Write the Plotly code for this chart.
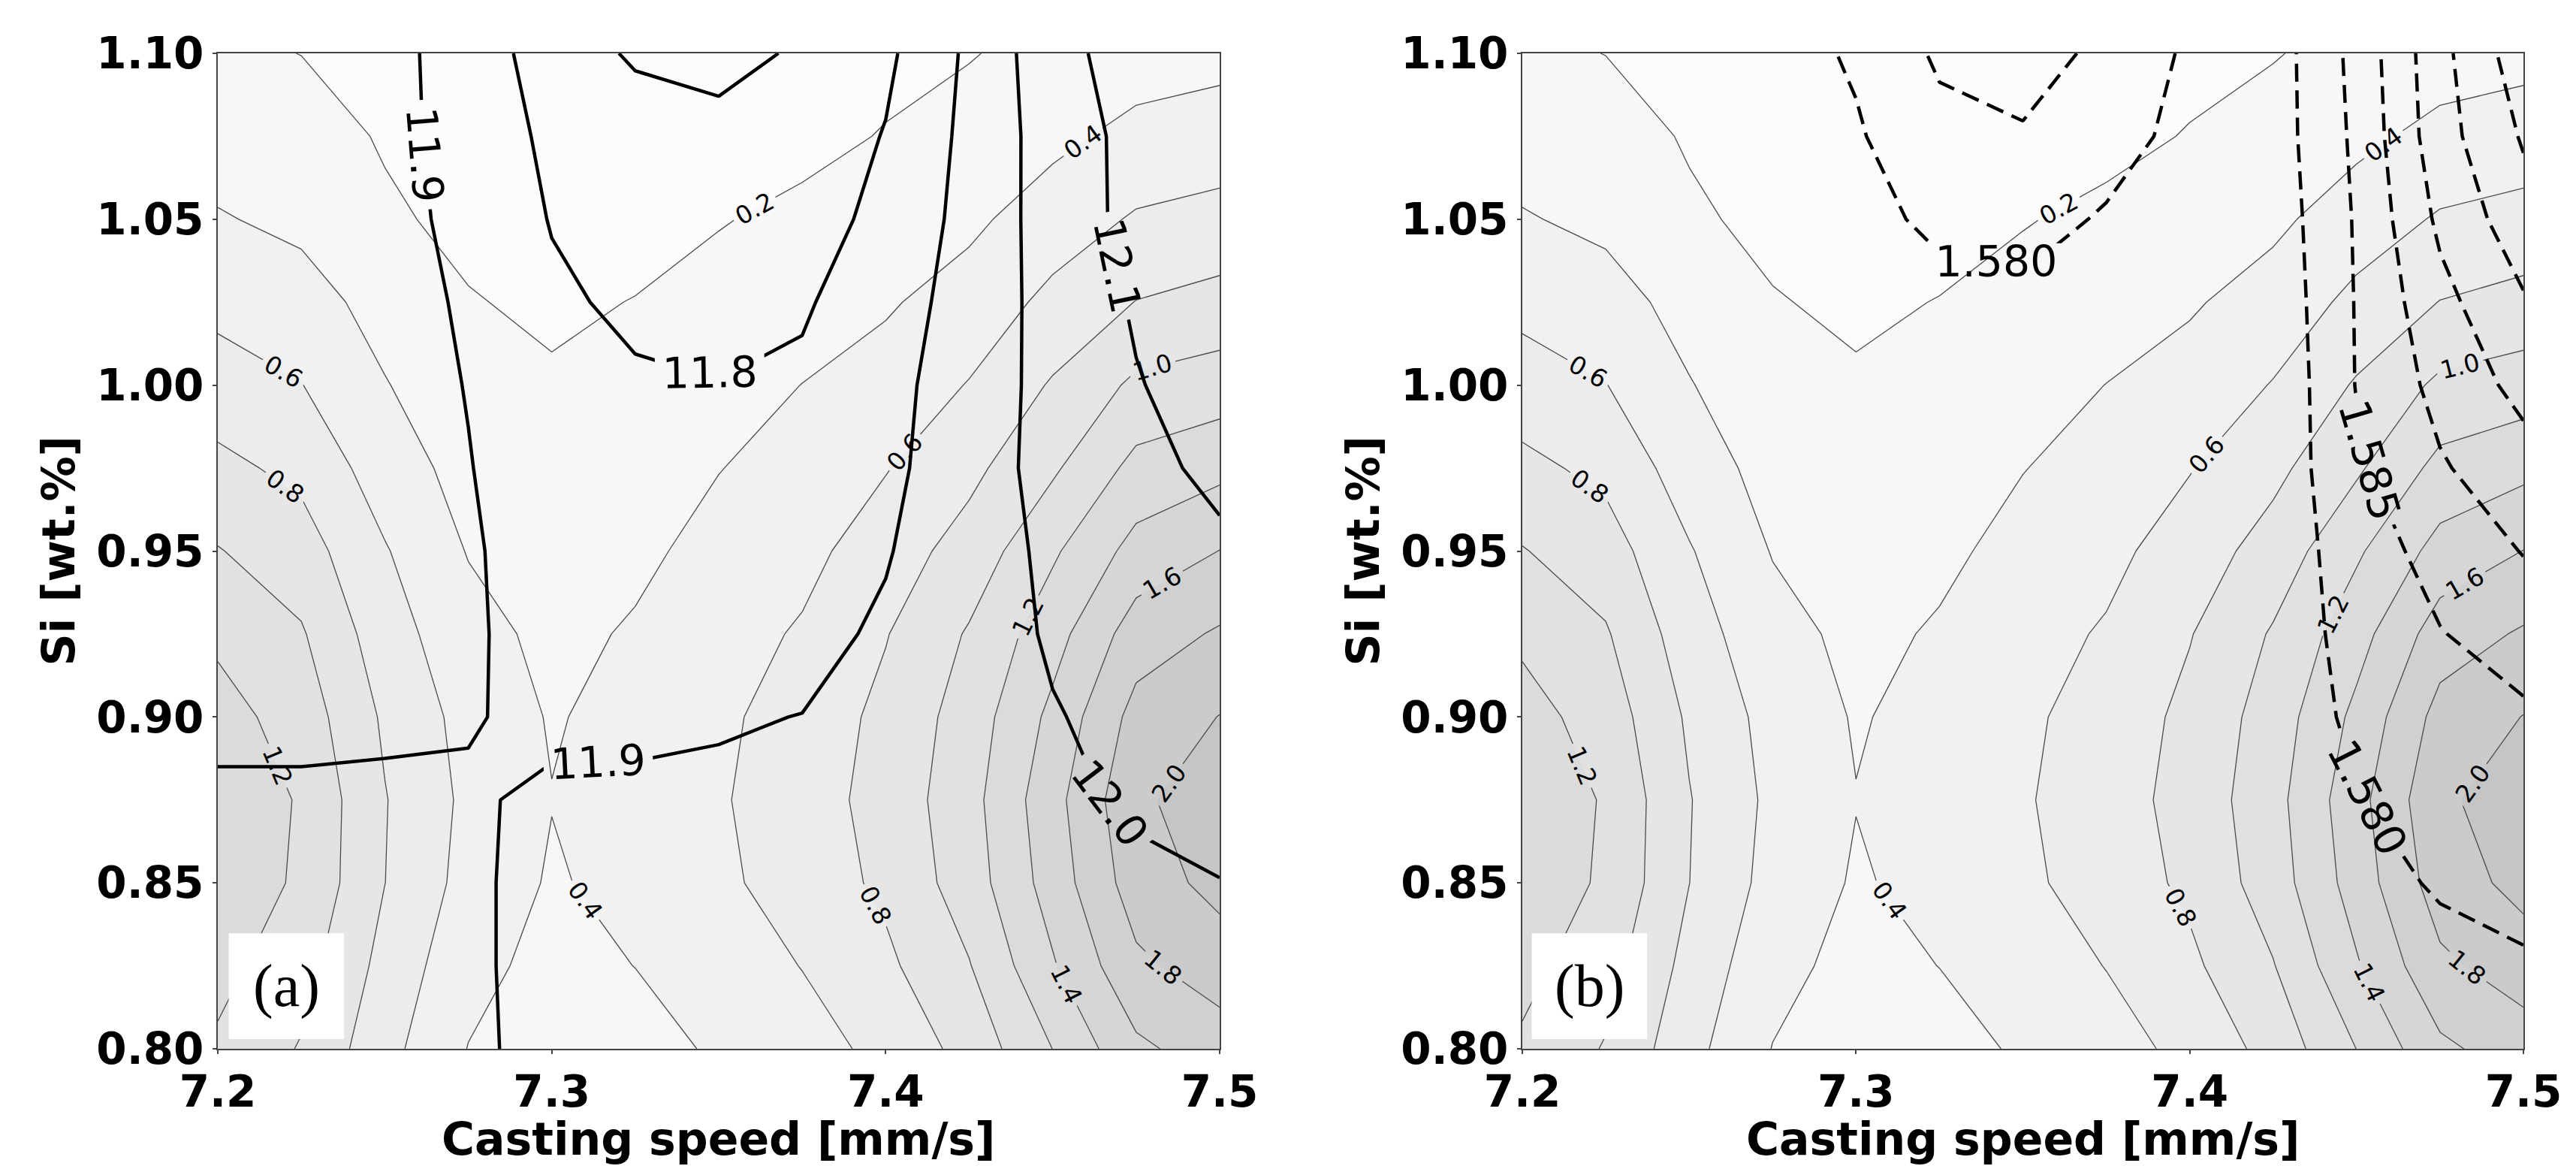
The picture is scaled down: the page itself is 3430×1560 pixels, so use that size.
import plotly.graph_objects as go

# ---------------- data ----------------
x_speed = [7.2, 7.225, 7.25, 7.275, 7.3, 7.325, 7.35, 7.375, 7.4, 7.425, 7.45, 7.475, 7.5]
y_si = [0.8, 0.825, 0.85, 0.875, 0.9, 0.925, 0.95, 0.975, 1.0, 1.025, 1.05, 1.075, 1.1]

# background field (grey filled contours, same in both panels); rows = y_si, cols = x_speed
bg_rows = [
    [1.17, 0.985, 0.665, 0.395, 0.30, 0.33, 0.425, 0.525, 0.65, 0.87, 1.202, 1.56, 1.70],
    [1.26, 1.08, 0.735, 0.46, 0.34, 0.402, 0.50, 0.605, 0.76, 0.99, 1.38, 1.76, 1.90],
    [1.33, 1.17, 0.802, 0.53, 0.38, 0.46, 0.56, 0.69, 0.84, 1.10, 1.49, 1.90, 2.06],
    [1.36, 1.18, 0.81, 0.555, 0.405, 0.48, 0.58, 0.71, 0.87, 1.13, 1.53, 1.96, 2.12],
    [1.28, 1.11, 0.77, 0.53, 0.385, 0.46, 0.565, 0.68, 0.85, 1.09, 1.45, 1.87, 2.005],
    [1.16, 1.02, 0.69, 0.47, 0.35, 0.42, 0.525, 0.62, 0.79, 1.02, 1.32, 1.70, 1.823],
    [1.01, 0.89, 0.615, 0.39, 0.31, 0.36, 0.46, 0.545, 0.70, 0.88, 1.17, 1.47, 1.603],
    [0.85, 0.75, 0.50, 0.33, 0.27, 0.30, 0.395, 0.47, 0.59, 0.75, 0.97, 1.26, 1.348],
    [0.69, 0.605, 0.41, 0.27, 0.22, 0.25, 0.33, 0.402, 0.47, 0.61, 0.82, 1.04, 1.098],
    [0.545, 0.48, 0.33, 0.21, 0.17, 0.205, 0.26, 0.32, 0.38, 0.48, 0.65, 0.805, 0.865],
    [0.415, 0.355, 0.225, 0.16, 0.12, 0.14, 0.19, 0.24, 0.29, 0.36, 0.50, 0.62, 0.663],
    [0.31, 0.27, 0.185, 0.14, 0.09, 0.10, 0.12, 0.15, 0.21, 0.27, 0.35, 0.46, 0.495],
    [0.23, 0.198, 0.16, 0.12, 0.07, 0.07, 0.08, 0.10, 0.15, 0.19, 0.26, 0.30, 0.34],
]

# panel (a) overlay field (solid black contours 11.7 ... 12.1)
a_rows = [
    [11.86, 11.862, 11.868, 11.894, 11.91, 11.912, 11.915, 11.92, 11.925, 11.935, 11.945, 11.96, 11.97],
    [11.865, 11.865, 11.87, 11.895, 11.91, 11.915, 11.92, 11.925, 11.93, 11.94, 11.955, 11.97, 11.98],
    [11.87, 11.87, 11.875, 11.895, 11.91, 11.915, 11.92, 11.925, 11.935, 11.95, 11.97, 11.985, 11.998],
    [11.89, 11.89, 11.89, 11.895, 11.908, 11.907, 11.91, 11.915, 11.93, 11.955, 11.985, 12.01, 12.03],
    [11.915, 11.915, 11.91, 11.903, 11.89, 11.892, 11.895, 11.901, 11.925, 11.96, 11.995, 12.025, 12.045],
    [11.93, 11.925, 11.915, 11.905, 11.885, 11.87, 11.87, 11.88, 11.91, 11.955, 12.01, 12.045, 12.07],
    [11.935, 11.93, 11.92, 11.905, 11.88, 11.86, 11.855, 11.865, 11.895, 11.95, 12.02, 12.06, 12.085],
    [11.94, 11.935, 11.92, 11.902, 11.87, 11.845, 11.835, 11.845, 11.88, 11.95, 12.035, 12.075, 12.12],
    [11.945, 11.94, 11.925, 11.898, 11.85, 11.812, 11.802, 11.815, 11.87, 11.95, 12.03, 12.095, 12.14],
    [11.95, 11.94, 11.925, 11.892, 11.817, 11.78, 11.77, 11.79, 11.852, 11.94, 12.035, 12.11, 12.15],
    [11.95, 11.94, 11.925, 11.88, 11.795, 11.76, 11.745, 11.76, 11.825, 11.932, 12.042, 12.13, 12.16],
    [11.95, 11.945, 11.925, 11.87, 11.777, 11.73, 11.714, 11.735, 11.805, 11.925, 12.046, 12.13, 12.17],
    [11.95, 11.95, 11.915, 11.879, 11.733, 11.692, 11.685, 11.706, 11.78, 11.918, 12.063, 12.15, 12.19],
]

# panel (b) overlay field (dashed black contours 1.580 ... 1.605)
b_rows = [
    [1.5665, 1.568, 1.5692, 1.5702, 1.571, 1.5717, 1.5722, 1.5726, 1.573, 1.574, 1.5755, 1.577, 1.578],
    [1.567, 1.5685, 1.5697, 1.5707, 1.5715, 1.5722, 1.5727, 1.5731, 1.5735, 1.5748, 1.577, 1.5785, 1.5795],
    [1.5675, 1.569, 1.5702, 1.5712, 1.572, 1.5727, 1.5732, 1.5737, 1.574, 1.5755, 1.5783, 1.5805, 1.5815],
    [1.568, 1.5695, 1.5707, 1.5717, 1.5725, 1.5732, 1.5737, 1.5741, 1.5745, 1.5765, 1.5798, 1.5815, 1.5825],
    [1.5685, 1.57, 1.5712, 1.5722, 1.573, 1.5737, 1.5741, 1.5744, 1.5748, 1.5775, 1.5808, 1.583, 1.5843],
    [1.569, 1.5705, 1.5717, 1.5727, 1.5735, 1.5742, 1.5746, 1.5748, 1.575, 1.5775, 1.5815, 1.5848, 1.5871],
    [1.5695, 1.571, 1.5722, 1.5733, 1.5742, 1.575, 1.5753, 1.5755, 1.5755, 1.577, 1.5825, 1.5868, 1.5902],
    [1.570, 1.5715, 1.573, 1.5742, 1.5752, 1.576, 1.5763, 1.5762, 1.5758, 1.5765, 1.5842, 1.5895, 1.593],
    [1.5705, 1.572, 1.5735, 1.575, 1.576, 1.577, 1.5773, 1.577, 1.5762, 1.576, 1.5852, 1.5915, 1.5965],
    [1.571, 1.5725, 1.574, 1.5755, 1.577, 1.5785, 1.579, 1.578, 1.5768, 1.5765, 1.5853, 1.5935, 1.5995],
    [1.5715, 1.573, 1.575, 1.5765, 1.5785, 1.581, 1.5818, 1.5795, 1.5775, 1.577, 1.5855, 1.596, 1.603],
    [1.572, 1.574, 1.5755, 1.577, 1.5795, 1.5835, 1.5845, 1.582, 1.5785, 1.5775, 1.586, 1.598, 1.6055],
    [1.572, 1.574, 1.576, 1.578, 1.5806, 1.5858, 1.5872, 1.5838, 1.5792, 1.5775, 1.5865, 1.5985, 1.608],
]

x_tick_vals = [7.2, 7.3, 7.4, 7.5]
x_tick_text = ["7.2", "7.3", "7.4", "7.5"]
y_tick_vals = [0.80, 0.85, 0.90, 0.95, 1.00, 1.05, 1.10]
y_tick_text = ["0.80", "0.85", "0.90", "0.95", "1.00", "1.05", "1.10"]
panel_labels = ["(a)", "(b)"]
x_title = "Casting speed [mm/s]"
y_title = "Si [wt.%]"

# ---------------- styling ----------------
W, H = 3430, 1560
OFF = 8  # page body margin of the html page
tick_font = dict(family="DejaVu Sans", size=58, color="black", weight="bold")
title_font = dict(family="DejaVu Sans", size=60, color="black", weight="bold")
grey_scale = [[0.0, "#fcfcfc"], [1.0, "#c5c5c5"]]

fig = go.Figure()

panels = [
    dict(xa="x", ya="y", over=a_rows, start=11.7, end=12.11, size=0.1, fmt=".1f", dash="solid"),
    dict(xa="x2", ya="y2", over=b_rows, start=1.58, end=1.6055, size=0.005, fmt=".3f", dash="24px,12px"),
]

for p in panels:
    fig.add_trace(go.Contour(
        x=x_speed, y=y_si, z=bg_rows, xaxis=p["xa"], yaxis=p["ya"],
        autocontour=False,
        contours=dict(start=0.2, end=2.0, size=0.2, coloring="fill",
                      showlabels=True, labelformat=".1f",
                      labelfont=dict(family="DejaVu Sans", size=33, color="black")),
        colorscale=grey_scale, showscale=False,
        line=dict(color="#4a4a4a", width=1.3, smoothing=0),
        hoverinfo="skip"))
    fig.add_trace(go.Contour(
        x=x_speed, y=y_si, z=p["over"], xaxis=p["xa"], yaxis=p["ya"],
        autocontour=False,
        contours=dict(start=p["start"], end=p["end"], size=p["size"], coloring="none",
                      showlabels=True, labelformat=p["fmt"],
                      labelfont=dict(family="DejaVu Sans", size=57, color="black")),
        showscale=False,
        line=dict(color="black", width=4.5, dash=p["dash"], smoothing=0),
        hoverinfo="skip"))

# plot-area pixel boxes measured on the reference, corrected for the page offset
def px_x(a):
    return (a - OFF) / W

def px_y(py):
    return (H + OFF - py) / H

xdoms = [[px_x(290), px_x(1624)], [px_x(2027), px_x(3360)]]
ydm = [px_y(1396), px_y(71)]

axis_common = dict(showline=True, mirror=True, linecolor="#444444", linewidth=2,
                   ticks="outside", ticklen=5, tickwidth=2, tickcolor="#444444",
                   showgrid=False, zeroline=False, automargin=False, tickfont=tick_font)

layout = dict(width=W, height=H, margin=dict(l=0, r=0, t=0, b=0),
              paper_bgcolor="white", plot_bgcolor="white", showlegend=False)

for i, (xa, ya) in enumerate([("xaxis", "yaxis"), ("xaxis2", "yaxis2")]):
    xname = "x" if i == 0 else "x2"
    yname = "y" if i == 0 else "y2"
    layout[xa] = dict(axis_common, domain=xdoms[i], anchor=yname, range=[7.2, 7.5],
                      tickvals=x_tick_vals, ticktext=x_tick_text)
    layout[ya] = dict(axis_common, domain=ydm, anchor=xname, range=[0.8, 1.1],
                      tickvals=y_tick_vals, ticktext=y_tick_text)

fig.update_layout(**layout)

# axis titles placed where they sit on the reference
ytitle_px = [77, 1814]
for i in range(2):
    fig.add_annotation(xref="paper", yref="paper", x=sum(xdoms[i]) / 2, y=px_y(1516),
                       text=x_title, showarrow=False, xanchor="center", yanchor="middle",
                       font=title_font)
    fig.add_annotation(xref="paper", yref="paper", x=px_x(ytitle_px[i]), y=sum(ydm) / 2,
                       text=y_title, showarrow=False, xanchor="center", yanchor="middle",
                       textangle=-90, font=title_font)

# panel letter boxes
box_x = [[0.0109, 0.126], [0.0094, 0.1247]]
for i, lab in enumerate(panel_labels):
    xr = "x domain" if i == 0 else "x2 domain"
    yr = "y domain" if i == 0 else "y2 domain"
    fig.add_shape(type="rect", xref=xr, yref=yr, x0=box_x[i][0], x1=box_x[i][1],
                  y0=0.0098, y1=0.116, fillcolor="white", line=dict(width=0), layer="above")
    fig.add_annotation(xref=xr, yref=yr, x=(box_x[i][0] + box_x[i][1]) / 2, y=0.063,
                       text=lab, showarrow=False, xanchor="center", yanchor="middle",
                       font=dict(family="Liberation Serif", size=80, color="black"))

fig.write_html("out.html")
